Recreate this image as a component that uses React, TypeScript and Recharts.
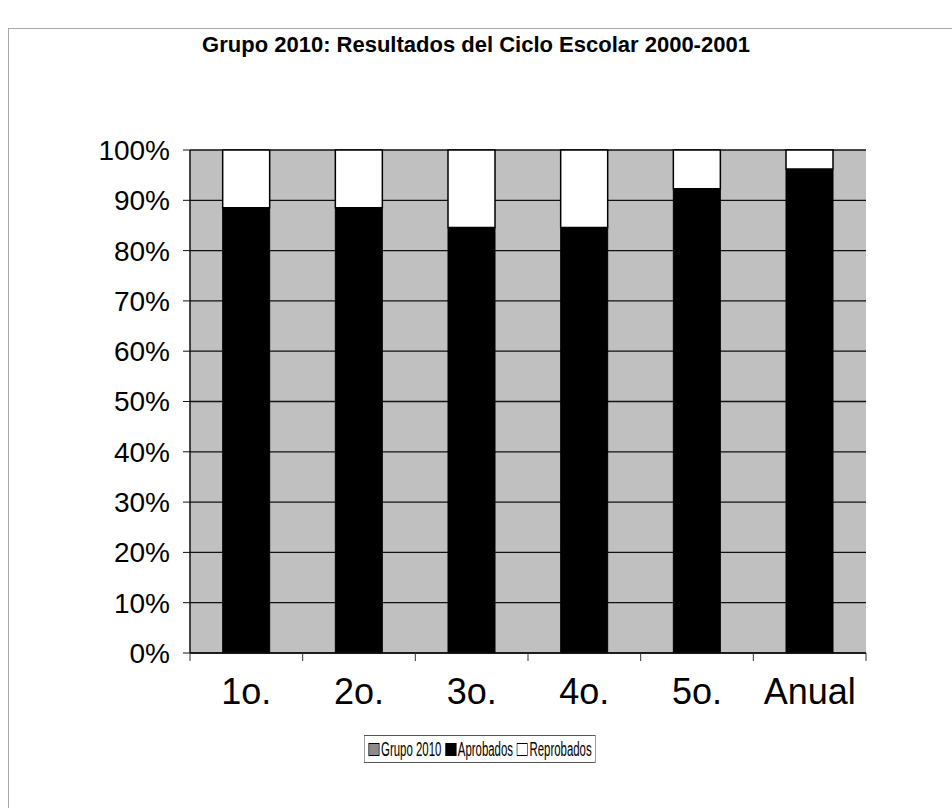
import { Bar, BarChart, CartesianGrid, Legend, XAxis, YAxis } from "recharts"

const grados = ["1o.", "2o.", "3o.", "4o.", "5o.", "Anual"]
const aprobados = [88.5, 88.5, 84.6, 84.6, 92.3, 96.2]
const reprobados = [11.5, 11.5, 15.4, 15.4, 7.7, 3.8]
const yTicks = [0, 10, 20, 30, 40, 50, 60, 70, 80, 90, 100]
const legendNames = ["Grupo 2010", "Aprobados", "Reprobados"]
const legendFills = ["#8c8c8c", "#000000", "#ffffff"]

const data = grados.map((g, i) => ({ grado: g, Aprobados: aprobados[i], Reprobados: reprobados[i] }))

const font = "'Liberation Sans', Arial, sans-serif"
const TICK_SIZE = 8
const TICK_MARGIN = 17

// etiqueta de categoría + marca de división en el borde izquierdo (y derecho para la última)
function CategoryTick(props: any) {
  const { x, y, payload, index } = props
  const half = payload?.offset ?? 0
  const y0 = y - TICK_MARGIN - TICK_SIZE
  const y1 = y - TICK_MARGIN
  return (
    <g>
      <line x1={x - half} x2={x - half} y1={y0} y2={y1} stroke="#333" strokeWidth={1} />
      {index === grados.length - 1 && <line x1={x + half} x2={x + half} y1={y0} y2={y1} stroke="#333" strokeWidth={1} />}
      <text x={x} y={y} dy="0.71em" textAnchor="middle" fontFamily={font} fontSize={36} fill="#000">
        {payload.value}
      </text>
    </g>
  )
}

function LegendBox() {
  return (
    <div
      style={{
        display: "inline-flex",
        alignItems: "center",
        border: "1px solid #555",
        padding: "3px 7px",
        fontFamily: font,
        fontSize: 20,
        lineHeight: "20px",
        color: "#000",
        background: "#fff",
        whiteSpace: "nowrap",
        transform: "scaleX(0.57)",
        transformOrigin: "left center",
      }}
    >
      {legendNames.map((n, i) => (
        <span key={n} style={{ display: "flex", alignItems: "center", marginRight: i < 2 ? 7 : 0 }}>
          <span
            style={{
              display: "inline-block",
              width: 17,
              height: 11,
              border: "1px solid #000",
              background: legendFills[i],
              marginRight: 3,
            }}
          />
          {n}
        </span>
      ))}
    </div>
  )
}

export default function App() {
  return (
    <div style={{ position: "absolute", left: 0, top: 0, width: 952, height: 808, background: "#fff", overflow: "hidden" }}>
      <div style={{ position: "absolute", left: 8, top: 28, width: 1000, height: 900, borderTop: "1px solid #aaa", borderLeft: "1px solid #aaa" }} />
      <div
        style={{
          position: "absolute",
          top: 32,
          left: 0,
          width: 952,
          textAlign: "center",
          fontFamily: font,
          fontWeight: "bold",
          fontSize: 22,
          color: "#000",
        }}
      >
        Grupo 2010: Resultados del Ciclo Escolar 2000-2001
      </div>
      <div style={{ position: "absolute", left: 0, top: 0 }}>
        <BarChart
          width={952}
          height={808}
          data={data}
          margin={{ top: 150, right: 86, left: 0, bottom: 95 }}
          barCategoryGap="29%"
        >
          <CartesianGrid vertical={false} stroke="#111" strokeWidth={1.3} fill="#c0c0c0" fillOpacity={1} />
          <XAxis
            dataKey="grado"
            tickLine={{ stroke: "none" }}
            tickSize={TICK_SIZE}
            tickMargin={TICK_MARGIN}
            axisLine={{ stroke: "#111", strokeWidth: 1.5 }}
            tick={<CategoryTick />}
            height={60}
            interval={0}
          />
          <YAxis
            type="number"
            domain={[0, 100]}
            ticks={yTicks}
            tickFormatter={(v) => `${v}%`}
            width={190}
            tickSize={7}
            tickMargin={13}
            tickLine={{ stroke: "#111" }}
            axisLine={{ stroke: "#111", strokeWidth: 1.5 }}
            tick={{ fontFamily: font, fontSize: 28, fill: "#000" }}
            interval={0}
          />
          <YAxis yAxisId="right" orientation="right" domain={[0, 100]} tick={false} tickLine={false} width={0} axisLine={{ stroke: "#111", strokeWidth: 1.5 }} />
          <Legend
            layout="vertical"
            verticalAlign="middle"
            align="center"
            content={() => <LegendBox />}
            wrapperStyle={{ top: 735, left: 364, width: "auto" }}
          />
          <Bar dataKey="Aprobados" stackId="a" fill="#000" stroke="#000" strokeWidth={1} isAnimationActive={false} />
          <Bar dataKey="Reprobados" stackId="a" fill="#fff" stroke="#000" strokeWidth={1.5} isAnimationActive={false} />
        </BarChart>
      </div>
    </div>
  )
}
